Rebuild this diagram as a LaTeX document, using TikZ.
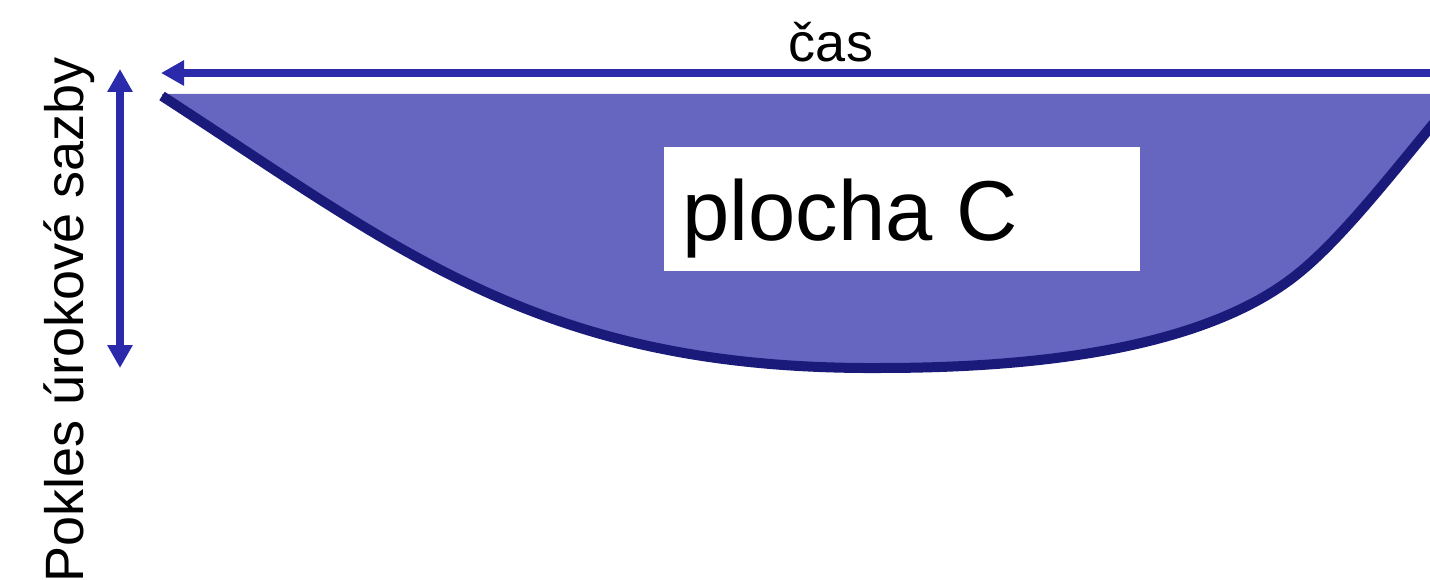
\documentclass[tikz,border=0pt]{standalone}
\usepackage{fontspec}
\setmainfont{Liberation Sans}
\usetikzlibrary{arrows.meta}
\definecolor{arrowblue}{HTML}{2A2AAA}
\definecolor{areafill}{HTML}{6666C0}
\definecolor{curvenavy}{HTML}{1A1A7A}
\tikzset{
  axisline/.style={draw=arrowblue, line width=8pt},
  tiphead/.tip={Triangle[length=23pt,width=24pt]},
  curveline/.style={draw=curvenavy, line width=10pt},
  labeltext/.style={inner sep=0pt, font=\fontsize{54}{60}\selectfont},
}
\begin{document}
\begin{tikzpicture}[x=1pt,y=-1pt]
\useasboundingbox (0,0) rectangle (1430,580);
\coordinate (c0) at (162,96);
\coordinate (cmin) at (880,368);
\coordinate (cknee) at (1300,272);
\coordinate (cend) at (1460,92);
\begin{scope}
\clip (0,0) rectangle (1430,580);
\fill[areafill] (c0) .. controls (400,250) and (540,370) .. (cmin)
  .. controls (1100,368) and (1230,330) .. (cknee)
  .. controls (1350,231) and (1410,150) .. (cend) -- (1460,94) -- (162,94) -- cycle;
\draw[curveline] (c0) .. controls (400,250) and (540,370) .. (cmin)
  .. controls (1100,368) and (1230,330) .. (cknee)
  .. controls (1350,231) and (1410,150) .. (cend);
\end{scope}
\node (box) [fill=white, inner sep=0pt, minimum width=476pt, minimum height=124pt] at (902,209) {};
\node (plocha) [inner sep=0pt, anchor=base west, font=\fontsize{85}{95}\selectfont] at (682,241) {plocha C};
\coordinate (hstart) at (1430,73);
\coordinate (hend) at (161,73);
\draw[axisline, -tiphead] (hstart) -- (hend);
\coordinate (vtop) at (120,69);
\coordinate (vbot) at (120,368);
\draw[axisline, tiphead-tiphead] (vtop) -- (vbot);
\node (cas) [labeltext, anchor=base] at (831,62) {čas};
\node (pokles) [labeltext, rotate=90, anchor=base] at (83,320) {Pokles úrokové sazby};
\end{tikzpicture}
\end{document}
